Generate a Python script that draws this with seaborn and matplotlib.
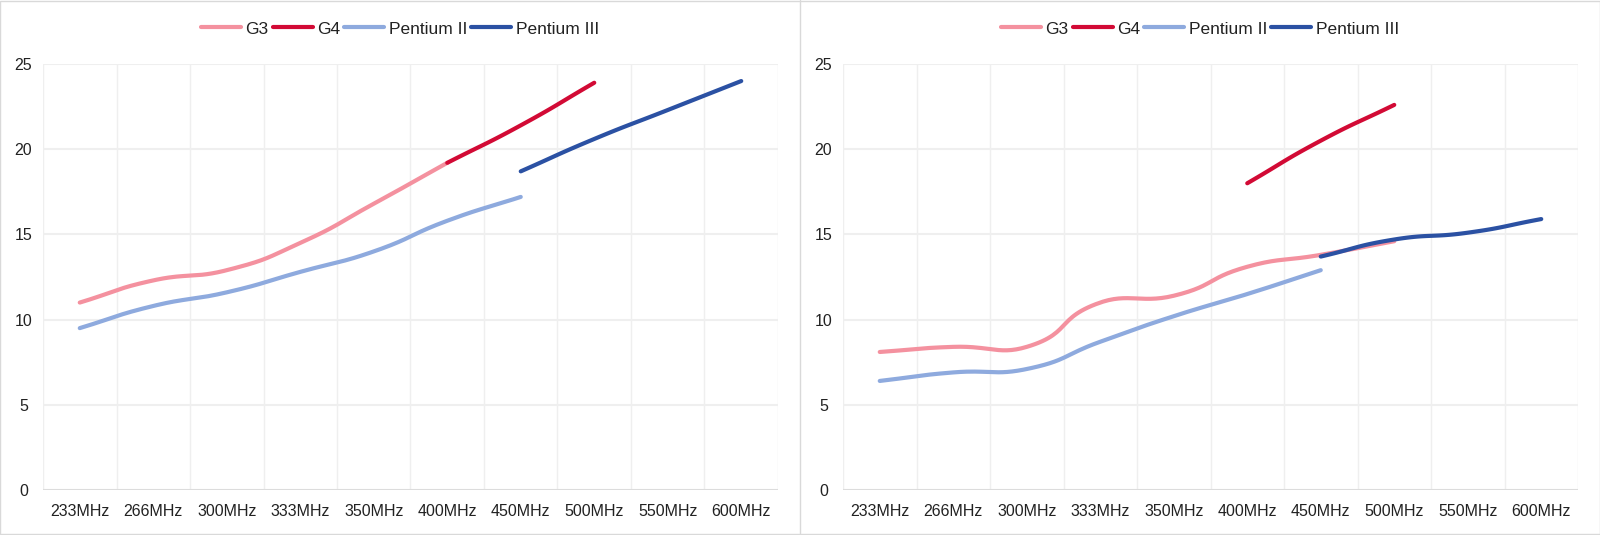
import numpy as np
import matplotlib.pyplot as plt
import seaborn as sns
from matplotlib.patches import Rectangle

categories = ["233MHz", "266MHz", "300MHz", "333MHz", "350MHz",
              "400MHz", "450MHz", "500MHz", "550MHz", "600MHz"]
nan = np.nan

# left chart
g3_left = [11.0, 12.3, 12.9, 14.5, 16.8, 19.2, nan, nan, nan, nan]
g4_left = [nan, nan, nan, nan, nan, 19.2, 21.4, 23.9, nan, nan]
p2_left = [9.5, 10.8, 11.6, 12.8, 14.0, 15.8, 17.2, nan, nan, nan]
p3_left = [nan, nan, nan, nan, nan, nan, 18.7, 20.6, 22.3, 24.0]

# right chart
g3_right = [8.1, 8.4, 8.4, 11.0, 11.4, 13.1, 13.8, 14.6, nan, nan]
g4_right = [nan, nan, nan, nan, nan, 18.0, 20.5, 22.6, nan, nan]
p2_right = [6.4, 6.9, 7.1, 8.7, 10.2, 11.5, 12.9, nan, nan, nan]
p3_right = [nan, nan, nan, nan, nan, nan, 13.7, 14.7, 15.1, 15.9]

names = ["G3", "G4", "Pentium II", "Pentium III"]
colors = ["#f4919f", "#d20a35", "#8eaade", "#2b51a3"]
yticks = [0, 5, 10, 15, 20, 25]


def smooth(xs, ys, s=0.5, n=30):
    # bezier smoothing between points (same idea as echarts smooth lines)
    pts = np.column_stack([xs, ys])
    out = []
    for i in range(len(pts) - 1):
        p0, p1 = pts[i], pts[i + 1]
        prev = pts[i - 1] if i > 0 else p0
        nxt = pts[i + 2] if i + 2 < len(pts) else p1
        d0 = np.linalg.norm(p0 - prev)
        d1 = np.linalg.norm(p1 - p0)
        d2 = np.linalg.norm(nxt - p1)
        v0 = p1 - prev
        v1 = nxt - p0
        c1 = p0 + v0 * s * (d1 / (d0 + d1) if d0 + d1 else 0)
        c2 = p1 - v1 * s * (d1 / (d1 + d2) if d1 + d2 else 0)
        t = np.linspace(0, 1, n)[:, None]
        seg = ((1 - t) ** 3) * p0 + 3 * ((1 - t) ** 2) * t * c1 + 3 * (1 - t) * t ** 2 * c2 + t ** 3 * p1
        out.append(seg if i == 0 else seg[1:])
    seg = np.vstack(out)
    return seg[:, 0], seg[:, 1]


sns.set_theme(style="white")
plt.rcParams["font.family"] = ["Liberation Sans", "DejaVu Sans"]

fig = plt.figure(figsize=(16, 5.35), dpi=100)

# outer frame and the separator between the two charts
fig.patches.append(Rectangle((0.0003, 0.001), 0.9994, 0.997, transform=fig.transFigure,
                             fill=False, edgecolor="#d9d9d9", linewidth=1))
fig.add_artist(plt.Line2D([0.5, 0.5], [0, 1], transform=fig.transFigure,
                          color="#d9d9d9", linewidth=1))

panels = [
    [g3_left, g4_left, p2_left, p3_left],
    [g3_right, g4_right, p2_right, p3_right],
]

for k, series in enumerate(panels):
    off = k * 0.5
    ax = fig.add_axes([off + 43 / 1600, 1 - 490 / 535, 735 / 1600, 426 / 535])
    xpos = np.arange(len(categories))
    for name, vals, col in zip(names, series, colors):
        v = np.array(vals, dtype=float)
        m = ~np.isnan(v)
        sx, sy = smooth(xpos[m].astype(float) * 2.0, v[m])
        sns.lineplot(x=sx / 2.0, y=sy, ax=ax, sort=False, color=col, linewidth=3,
                     label=name, solid_capstyle="round")
    ax.set_xlim(-0.5, len(categories) - 0.5)
    ax.set_ylim(0, 25)
    ax.set_yticks(yticks)
    ax.set_xticks(xpos)
    ax.set_xticklabels(categories)
    for b in np.arange(-0.5, len(categories), 1):
        ax.axvline(b, color="#efefef", linewidth=1, zorder=0)
    for yv in yticks[1:]:
        ax.axhline(yv, color="#efefef", linewidth=1.5, zorder=0)
    ax.axhline(0, color="#dcdcdc", linewidth=1.5, zorder=0)
    for sp in ax.spines.values():
        sp.set_visible(False)
    ax.tick_params(axis="both", length=0, labelsize=11.5, colors="#222222")
    ax.tick_params(axis="x", pad=10)
    ax.tick_params(axis="y", pad=14)
    for lab in ax.get_yticklabels():
        lab.set_horizontalalignment("center")
    ax.set_xlabel("")
    ax.set_ylabel("")
    ax.legend_.remove()
    h, l = ax.get_legend_handles_labels()
    fig.legend(h, l, loc="center", bbox_to_anchor=(off + 0.25, 1 - 29 / 535), ncol=4,
               frameon=False, fontsize=12.5, handlelength=2.3, handletextpad=0.25,
               columnspacing=0.25, labelcolor="#222222")

fig.savefig("out.png", dpi=100)
